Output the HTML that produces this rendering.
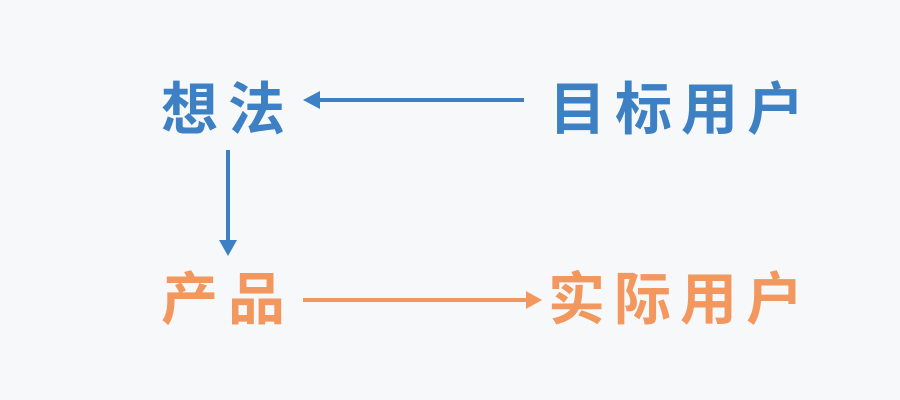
<!DOCTYPE html>
<html><head><meta charset="utf-8"><style>
html,body{margin:0;padding:0;background:#f7f8fa;}
svg{display:block}
text{font-family:"Liberation Sans","Noto Sans CJK SC",sans-serif;font-weight:bold;font-size:57px;}
</style></head><body>
<svg width="900" height="400" viewBox="0 0 900 400">
<rect width="900" height="400" fill="#f7f8fa"/>
<text x="161" y="129" fill="#3d80c4" letter-spacing="10">想法</text>
<text x="549" y="129" fill="#3d80c4" letter-spacing="9">目标用户</text>
<text x="161" y="319" fill="#f2975e" letter-spacing="10">产品</text>
<text x="548" y="319" fill="#f2975e" letter-spacing="9">实际用户</text>
<line x1="316" y1="100" x2="524" y2="100" stroke="#3d80c4" stroke-width="4"/>
<polygon points="303,100 320,91 320,109" fill="#3d80c4"/>
<line x1="228" y1="150" x2="228" y2="242" stroke="#3d80c4" stroke-width="4"/>
<polygon points="228,256 219,240 237,240" fill="#3d80c4"/>
<line x1="303" y1="300" x2="528" y2="300" stroke="#f2975e" stroke-width="4"/>
<polygon points="542,300 526,291 526,309" fill="#f2975e"/>
</svg>
</body></html>
